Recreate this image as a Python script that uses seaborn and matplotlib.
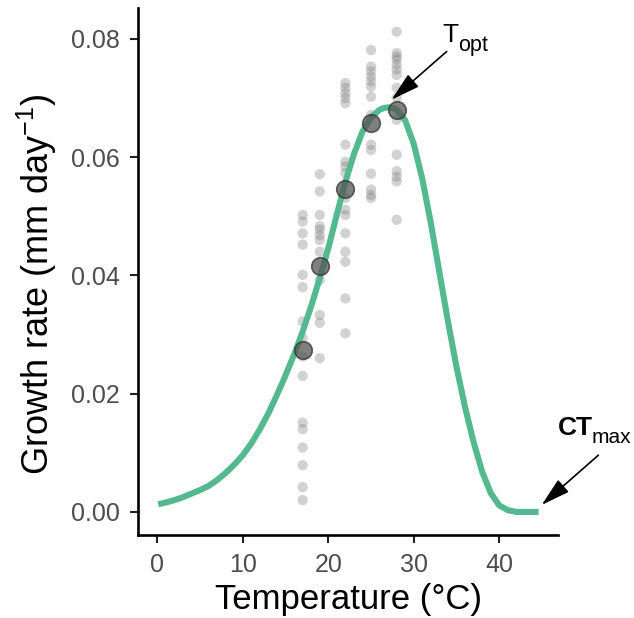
import numpy as np
import pandas as pd
import seaborn as sns
import matplotlib.pyplot as plt

# Datos
temps = [17, 19, 22, 25, 28]
gr_17 = [0.0502, 0.0491, 0.0471, 0.0452, 0.0401, 0.0380, 0.0322, 0.0294,
         0.0263, 0.0230, 0.0151, 0.0140, 0.0109, 0.0079, 0.0042, 0.0020]
gr_19 = [0.0571, 0.0542, 0.0502, 0.0483, 0.0477, 0.0468, 0.0460, 0.0440,
         0.0392, 0.0333, 0.0320, 0.0260]
gr_22 = [0.0725, 0.0717, 0.0708, 0.0700, 0.0691, 0.0621, 0.0592, 0.0584,
         0.0573, 0.0531, 0.0511, 0.0502, 0.0471, 0.0440, 0.0423, 0.0361, 0.0302]
gr_25 = [0.0781, 0.0753, 0.0745, 0.0736, 0.0728, 0.0719, 0.0702, 0.0671,
         0.0621, 0.0612, 0.0572, 0.0545, 0.0536, 0.0531]
gr_28 = [0.0812, 0.0776, 0.0770, 0.0765, 0.0756, 0.0748, 0.0739, 0.0717,
         0.0700, 0.0663, 0.0604, 0.0576, 0.0567, 0.0559, 0.0494]
mean_gr = [0.0274, 0.0416, 0.0546, 0.0658, 0.0679]

# Curva ajustada (valores leidos cada grado)
curve_t = [0.1, 1, 2, 3, 4, 5, 6, 7, 8, 9, 10, 11, 12, 13, 14, 15, 16, 17,
           18, 19, 20, 21, 22, 23, 24, 25, 26, 26.5, 27, 27.5, 28, 29, 30,
           31, 32, 33, 34, 35, 36, 37, 38, 39, 40, 41, 42, 43, 44.6]
curve_g = [0.0013, 0.0016, 0.0020, 0.0025, 0.0031, 0.0037, 0.0044, 0.0054,
           0.0066, 0.0080, 0.0096, 0.0116, 0.0140, 0.0167, 0.0198, 0.0231,
           0.0266, 0.0305, 0.0348, 0.0395, 0.0446, 0.0503, 0.0558, 0.0605,
           0.0643, 0.0667, 0.0680, 0.0683, 0.0684, 0.0683, 0.0680, 0.0662,
           0.0622, 0.0563, 0.0488, 0.0405, 0.0322, 0.0245, 0.0177, 0.0118,
           0.0068, 0.0032, 0.0011, 0.0003, 0.0000, 0.0000, 0.0000]

raw = pd.DataFrame({
    "temp": np.repeat(temps, [len(gr_17), len(gr_19), len(gr_22), len(gr_25), len(gr_28)]),
    "growth": gr_17 + gr_19 + gr_22 + gr_25 + gr_28,
})
means = pd.DataFrame({"temp": temps, "growth": mean_gr})
curve = pd.DataFrame({"temp": curve_t, "growth": curve_g})

sns.set_theme(style="ticks")
plt.rcParams["font.family"] = ["Liberation Sans", "DejaVu Sans"]
plt.rcParams["mathtext.fontset"] = "custom"
plt.rcParams["mathtext.rm"] = "Liberation Sans"
plt.rcParams["mathtext.it"] = "Liberation Sans:italic"
plt.rcParams["mathtext.bf"] = "Liberation Sans:bold"

fig = plt.figure(figsize=(6.34, 6.18), dpi=100)
ax = fig.add_axes([0.2177, 0.1343, 0.6624, 0.8527])

sns.scatterplot(data=raw, x="temp", y="growth", ax=ax, s=55, color="#7f7f7f",
                alpha=0.35, edgecolor="none", zorder=2)
sns.lineplot(data=curve, x="temp", y="growth", ax=ax, color="#55b98f",
             linewidth=4.4, solid_capstyle="butt", solid_joinstyle="round", zorder=3)
sns.scatterplot(data=means, x="temp", y="growth", ax=ax, s=160, color="#555555",
                alpha=0.75, edgecolor="#333333", linewidth=1.2, zorder=4)

ax.set_xlim(-2.26, 46.87)
ax.set_ylim(-0.0039, 0.0852)
ax.set_xticks([0, 10, 20, 30, 40])
ax.set_yticks([0.00, 0.02, 0.04, 0.06, 0.08])
ax.set_yticklabels(["0.00", "0.02", "0.04", "0.06", "0.08"])
ax.tick_params(labelsize=18, labelcolor="#4d4d4d", color="#222222",
               width=1.5, length=6, pad=7)
for s in ["left", "bottom"]:
    ax.spines[s].set_linewidth(1.9)
    ax.spines[s].set_color("black")
sns.despine(ax=ax)

ax.set_xlabel("Temperature (°C)", fontsize=25, color="black", labelpad=4)
ax.set_ylabel("Growth rate (mm day$^{-1}$)", fontsize=26, color="black")
ax.yaxis.set_label_coords(-0.187, 0.475)

# Anotaciones
flecha = dict(arrowstyle="-|>,head_length=0.9,head_width=0.25", mutation_scale=20,
              color="black", lw=1.2, shrinkA=0, shrinkB=0)
ax.text(33.3, 0.0794, "T", fontsize=19, color="black", ha="left", va="baseline")
ax.text(35.2, 0.0779, "opt", fontsize=15.5, color="black", ha="left", va="baseline")
ax.annotate("", xy=(27.4, 0.0697), xytext=(33.85, 0.07785), arrowprops=flecha)
ax.text(46.85, 0.0130, "CT", fontsize=19, color="black", fontweight="bold",
        ha="left", va="baseline", clip_on=False)
ax.text(50.8, 0.01167, "max", fontsize=15, color="black", ha="left",
        va="baseline", clip_on=False)
ax.annotate("", xy=(44.96, 0.00118), xytext=(51.6, 0.0096), arrowprops=flecha,
            annotation_clip=False)

fig.savefig("out.png", dpi=100)
